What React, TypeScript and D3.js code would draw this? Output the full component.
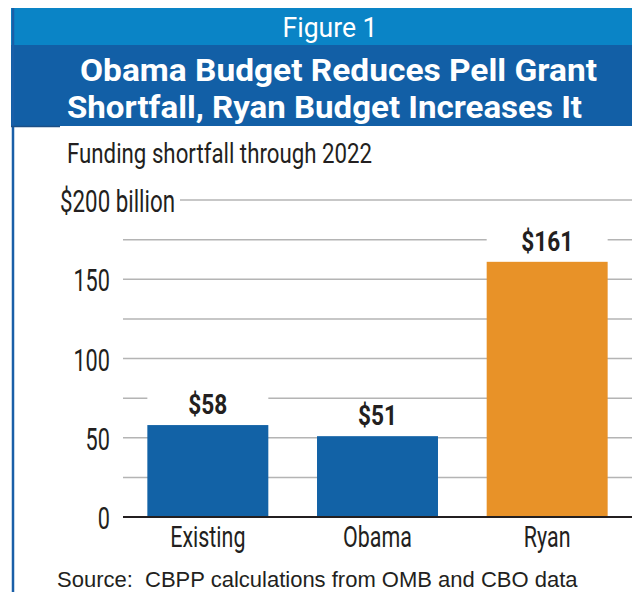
import React from "react";
import * as d3 from "d3";

const categories = ["Existing", "Obama", "Ryan"];
const values = [58, 51, 161];
const valueLabels = ["$58", "$51", "$161"];
const barColors = ["#1262a6", "#1262a6", "#e89228"];
const majorTicks = [0, 50, 100, 150];
const minorTicks = [25, 75, 125, 175];
const topTickLabel = "$200 billion";
const figureLabel = "Figure 1";
const titleLines = ["Obama Budget Reduces Pell Grant", "Shortfall, Ryan Budget Increases It"];
const subtitle = "Funding shortfall through 2022";
const sourceText = "Source:  CBPP calculations from OMB and CBO data";

const W = 632;
const H = 592;
const COND = "Roboto, 'Noto Sans', sans-serif";

export default function App() {
  const y = d3.scaleLinear().domain([0, 200]).range([517, 200]);
  const x = d3
    .scaleBand<string>()
    .domain(categories)
    .range([123, 632])
    .paddingInner(0.287)
    .paddingOuter(0.1435);
  const bw = x.bandwidth();

  return (
    <svg
      width={W}
      height={H}
      viewBox={`0 0 ${W} ${H}`}
      style={{ position: "absolute", left: 0, top: 0, display: "block", background: "#fff" }}
    >
      {/* header bands */}
      <rect x={11} y={8} width={W - 11} height={37} fill="#0a84c6" />
      <rect x={11} y={45} width={W - 11} height={81} fill="#125fa6" />
      <line x1={13} x2={13} y1={8} y2={H} stroke="#1a5fa8" strokeWidth={2.5} />
      <line x1={11} x2={60} y1={126.5} y2={126.5} stroke="#1b4f86" strokeWidth={1.5} />

      <text
        x={330}
        y={37}
        fill="#fff"
        fontFamily={COND}
        fontSize={28}
        textAnchor="middle"
        textLength={95}
        lengthAdjust="spacingAndGlyphs"
      >
        {figureLabel}
      </text>
      <text
        x={80}
        y={81}
        fill="#fff"
        fontFamily={COND}
        fontWeight={700}
        fontSize={31.5}
        textLength={517}
        lengthAdjust="spacingAndGlyphs"
      >
        {titleLines[0]}
      </text>
      <text
        x={67}
        y={118}
        fill="#fff"
        fontFamily={COND}
        fontWeight={700}
        fontSize={31.5}
        textLength={515}
        lengthAdjust="spacingAndGlyphs"
      >
        {titleLines[1]}
      </text>

      {/* subtitle */}
      <text
        x={67}
        y={163}
        fill="#231f20"
        fontFamily={COND}
        fontSize={28}
        textLength={305}
        lengthAdjust="spacingAndGlyphs"
      >
        {subtitle}
      </text>

      {/* gridlines */}
      {minorTicks.concat(majorTicks.filter((t) => t !== 0)).map((t) => (
        <line key={"g" + t} x1={123} x2={W} y1={y(t)} y2={y(t)} stroke="#b4b4b4" strokeWidth={1.5} />
      ))}
      <line x1={180} x2={W} y1={y(200)} y2={y(200)} stroke="#b4b4b4" strokeWidth={1.5} />

      {/* y tick labels */}
      {majorTicks.map((t) => (
        <text
          key={"t" + t}
          transform={`translate(110,${y(t) + 12}) scale(0.7,1)`}
          fill="#231f20"
          fontFamily={COND}
          fontSize={31}
          textAnchor="end"
        >
          {String(t)}
        </text>
      ))}
      <text
        transform={`translate(175,${y(200) + 12}) scale(0.72,1)`}
        fill="#231f20"
        fontFamily={COND}
        fontSize={31}
        textAnchor="end"
      >
        {topTickLabel}
      </text>

      {/* bars */}
      {categories.map((c, i) => (
        <g key={c}>
          <rect x={x(c)!} y={y(values[i]) - 30} width={bw} height={30} fill="#fff" />
          <rect
            x={x(c)!}
            y={y(values[i])}
            width={bw}
            height={y(0) - y(values[i])}
            fill={barColors[i]}
          />
          <text
            transform={`translate(${x(c)! + bw / 2},${y(values[i]) - 11}) scale(0.84,1)`}
            fill="#231f20"
            fontFamily={COND}
            fontWeight={700}
            fontSize={27}
            textAnchor="middle"
          >
            {valueLabels[i]}
          </text>
          <text
            transform={`translate(${x(c)! + bw / 2},547) scale(0.74,1)`}
            fill="#231f20"
            fontFamily={COND}
            fontSize={29}
            textAnchor="middle"
          >
            {c}
          </text>
        </g>
      ))}

      {/* baseline */}
      <line x1={123} x2={W} y1={y(0)} y2={y(0)} stroke="#231f20" strokeWidth={2} />

      {/* source */}
      <text
        x={57}
        y={587}
        fill="#231f20"
        fontFamily="'Liberation Sans', Arial, sans-serif"
        fontSize={22}
        style={{ whiteSpace: "pre" }}
      >
        {sourceText}
      </text>
    </svg>
  );
}
